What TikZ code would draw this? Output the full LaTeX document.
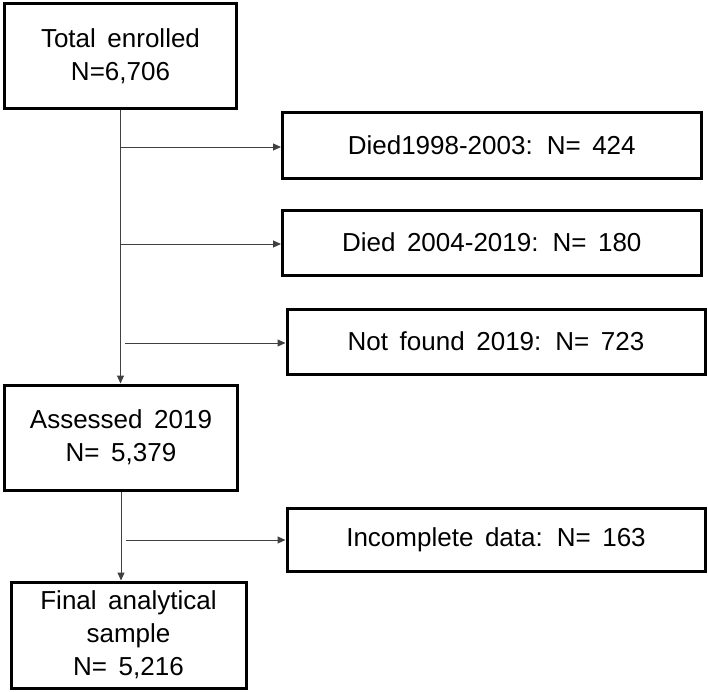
\documentclass[tikz,border=0pt]{standalone}
\usepackage{fontspec}
\setmainfont{Liberation Sans}[WordSpace=1.6]
\usetikzlibrary{arrows.meta}
\begin{document}
\begin{tikzpicture}[x=1pt,y=-1pt,
  box/.style={draw=black, line width=3pt, fill=white, align=center, inner sep=0pt,
    font=\fontsize{26}{33}\selectfont},
  conn/.style={draw=black!75, line width=1pt},
  arr/.style={conn, -{Triangle[length=8pt,width=7pt]}}]
\useasboundingbox (0,0) rectangle (708,691);
\node[box, minimum width=232pt, minimum height=104.5pt] (total) at (120.5,55.75) {Total enrolled\\N=6,706};
\node[box, minimum width=418.5pt, minimum height=66pt] (died1) at (491.75,145) {Died1998-2003: N= 424};
\node[box, minimum width=418.5pt, minimum height=65pt] (died2) at (491.75,242.5) {Died 2004-2019: N= 180};
\node[box, minimum width=418pt, minimum height=65pt] (notfound) at (496,341.5) {Not found 2019: N= 723};
\node[box, minimum width=233pt, minimum height=105pt] (assessed) at (121,437.5) {Assessed 2019\\N= 5,379};
\node[box, minimum width=418pt, minimum height=63pt] (incomplete) at (496,539.5) {Incomplete data: N= 163};
\node[box, minimum width=235pt, minimum height=106pt] (final) at (128.5,635) {Final analytical\\sample\\N= 5,216};
\coordinate (j1) at (121,147);
\coordinate (j2) at (121,244);
\coordinate (j3) at (125,343);
\coordinate (j4) at (126,540);
\draw[arr] (total.south) -- (total.south |- assessed.north);
\draw[arr] (j1) -- (died1.west |- j1);
\draw[arr] (j2) -- (died2.west |- j2);
\draw[arr] (j3) -- (notfound.west |- j3);
\draw[arr] (assessed.south) -- (assessed.south |- final.north);
\draw[arr] (j4) -- (incomplete.west |- j4);
\end{tikzpicture}
\end{document}
